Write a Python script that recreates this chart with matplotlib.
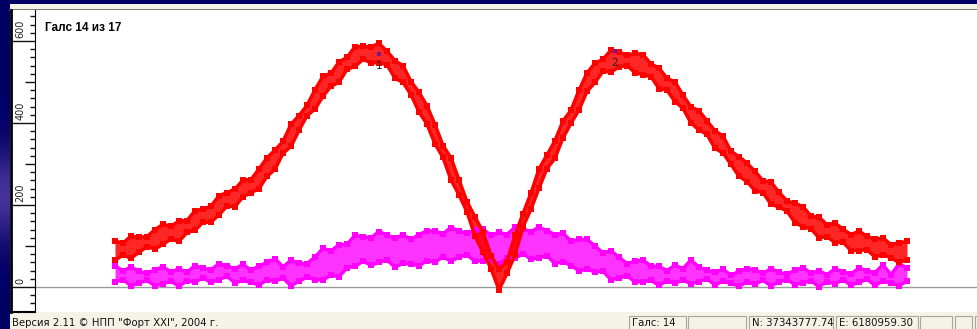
import numpy as np
import matplotlib
matplotlib.use('Agg')
import matplotlib.pyplot as plt
from matplotlib.patches import Rectangle

# sample positions along the track (every 8 units)
track_pos = np.arange(80, 880, 8)

# red channel - upper and lower edge of the point cloud
red_top = [112, 107, 124, 121, 123, 140, 153, 148, 161, 162,
           186, 190, 197, 223, 230, 239, 261, 262, 288, 315,
           334, 355, 397, 418, 443, 481, 514, 521, 549, 560,
           586, 587, 586, 594, 575, 552, 540, 501, 475, 442,
           396, 345, 315, 261, 208, 171, 134, 76, 43, 62,
           126, 179, 229, 288, 322, 357, 405, 431, 480, 522,
           546, 555, 578, 573, 565, 570, 567, 544, 534, 509,
           500, 468, 439, 430, 405, 381, 368, 331, 318, 302,
           282, 259, 256, 231, 210, 204, 196, 173, 170, 152,
           156, 141, 128, 136, 124, 116, 120, 103, 108, 111]
red_bottom = [65, 78, 70, 85, 98, 93, 104, 117, 111, 133,
              138, 158, 158, 176, 197, 196, 220, 230, 240, 270,
              287, 326, 343, 382, 418, 434, 465, 490, 499, 531,
              538, 555, 547, 547, 542, 509, 499, 469, 427, 397,
              349, 316, 261, 225, 183, 124, 85, 45, -7, 33,
              78, 147, 190, 241, 289, 314, 364, 399, 432, 477,
              499, 526, 524, 537, 540, 523, 518, 513, 484, 480,
              452, 436, 400, 383, 372, 338, 327, 299, 270, 257,
              235, 230, 202, 195, 185, 157, 147, 142, 120, 123,
              108, 109, 89, 89, 91, 73, 79, 71, 60, 66]

# magenta channel
mag_top = [52, 39, 49, 38, 33, 42, 49, 37, 44, 36,
           52, 46, 42, 57, 51, 45, 55, 41, 51, 60,
           69, 49, 65, 58, 57, 73, 94, 88, 103, 104,
           126, 123, 120, 135, 127, 119, 127, 116, 128, 137,
           136, 130, 145, 137, 131, 138, 141, 126, 133, 128,
           146, 141, 135, 146, 137, 128, 131, 112, 116, 116,
           100, 83, 88, 73, 57, 63, 66, 51, 50, 40,
           53, 45, 66, 48, 41, 36, 43, 29, 38, 45,
           42, 33, 45, 36, 31, 41, 47, 34, 39, 30,
           44, 37, 32, 46, 40, 35, 54, 30, 56, 47]
mag_bottom = [13, 18, 3, 10, 16, 3, 8, 14, 2, 15,
              12, 22, 11, 18, 26, 10, 16, 11, 5, 17,
              14, 22, 3, 14, 24, 18, 17, 29, 25, 47,
              50, 63, 53, 60, 66, 48, 58, 56, 52, 64,
              61, 73, 63, 73, 78, 63, 64, 67, 55, 71,
              70, 81, 68, 71, 76, 57, 62, 52, 40, 43,
              37, 38, 18, 21, 28, 12, 13, 16, 4, 15,
              9, 17, 8, 13, 20, 5, 14, 9, 2, 12,
              7, 16, 3, 12, 18, 6, 10, 15, 1, 13,
              8, 17, 5, 11, 19, 4, 14, 10, 3, 14]

# picked anomaly points
pick_pos = [344, 580]
pick_val = [568, 576]
pick_labels = ['1', '2']

ruler_labels = [0, 200, 400, 600]

title = 'Галс 14 из 17'
status_left = 'Версия 2.11 © НПП "Форт XXI", 2004 г.'
status_fields = ['Галс: 14', '', 'N: 37343777.74', 'E: 6180959.30', '', '', '']

W, H = 977, 329


def fx(x):
    return x / W


def fy(y):
    return 1 - y / H


fig = plt.figure(figsize=(9.77, 3.29), dpi=100)
fig.patch.set_facecolor('#000064')

# window background (slide gradient on the left + cream panel)
bg = fig.add_axes([0, 0, 1, 1])
rows = np.linspace(0, H, 200)
glow = np.exp(-((rows - 195) / 45.0) ** 2)
navy = np.array([0, 0, 100]) / 255
lilac = np.array([70, 50, 150]) / 255
img = navy + glow[:, None] * (lilac - navy)
bg.imshow(img[:, None, :], extent=[0, 1, 0, 1], aspect='auto')
bg.set_xlim(0, 1)
bg.set_ylim(0, 1)
bg.axis('off')
bg.add_patch(Rectangle((fx(10), 0), 1 - fx(10), fy(4), color='#f5f2e8', lw=0))
bg.plot([fx(10), 1], [fy(9.5), fy(9.5)], color='#707070', lw=1.3)

# status bar boxes
boxes = [(629, 686), (688, 746), (749, 833), (836, 918), (920, 952), (955, 972), (975, 990)]
for (x0, x1), txt in zip(boxes, status_fields):
    bg.add_patch(Rectangle((fx(x0), fy(330)), (x1 - x0) / W, 14 / H,
                           fill=False, edgecolor='#a8a59a', lw=0.8))
    if txt:
        bg.text(fx(x0 + 3), fy(322.5), txt, fontsize=7.3, va='center', color='#111')
bg.text(fx(12), fy(322.5), status_left, fontsize=7.3, va='center', color='#111')

# main plot area
ylo, yhi = -61, 675.6
ax = fig.add_axes([fx(35), fy(312), (977 - 35) / W, (312 - 10) / H])
ax.set_facecolor('white')
ax.set_xlim(0, 942)
ax.set_ylim(ylo, yhi)
ax.set_xticks([])
ax.set_yticks([])
for s in ax.spines.values():
    s.set_visible(False)
ax.axhline(0, color='#9a9a9a', lw=1)

# point clouds: speckled ribbon between the edges, edge points on top
ax.fill_between(track_pos, mag_bottom, mag_top, color='#ff00ff', alpha=0.8, lw=0)
for strand in (mag_top, mag_bottom):
    ax.plot(track_pos, strand, color='#ff00ff', lw=2.5, marker='s', ms=4, mew=0)
ax.fill_between(track_pos, red_bottom, red_top, color='#ff0000', alpha=0.85, lw=0)
for strand in (red_top, red_bottom):
    ax.plot(track_pos, strand, color='#ff0000', lw=2.5, marker='s', ms=4, mew=0)

ax.plot(pick_pos, pick_val, 's', color='#7a1a8a', ms=2.5, mew=0)
for p, v, lab in zip(pick_pos, pick_val, pick_labels):
    ax.text(p, v - 30, lab, ha='center', va='center', fontsize=7.5, color='#222')

fig.text(fx(45), fy(28), title, fontsize=8.5, fontweight='bold',
         family=['Liberation Sans', 'DejaVu Sans'], va='center')

# vertical ruler
rax = fig.add_axes([fx(11), fy(312), 24 / W, (312 - 10) / H])
rax.set_facecolor('white')
rax.set_xlim(0, 1)
rax.set_ylim(ylo, yhi)
rax.set_xticks([])
rax.set_yticks([])
rax.spines['top'].set_visible(False)
rax.spines['left'].set_linewidth(2)
rax.spines['bottom'].set_linewidth(1.5)
rax.spines['right'].set_linewidth(0.8)
for v in np.arange(-60, 661, 20):
    if v % 200 == 0:
        rax.hlines(v, 0, 1, color='#111', lw=1)
    elif v % 100 == 0:
        rax.hlines(v, 0.6, 1, color='#111', lw=1)
    else:
        rax.hlines(v, 0.8, 1, color='#111', lw=1)
for v in ruler_labels:
    rax.text(0.4, v + 7, str(v), rotation=90, ha='center', va='bottom',
             fontsize=7, color='#222')

fig.savefig('out.png', dpi=100, facecolor=fig.get_facecolor())
